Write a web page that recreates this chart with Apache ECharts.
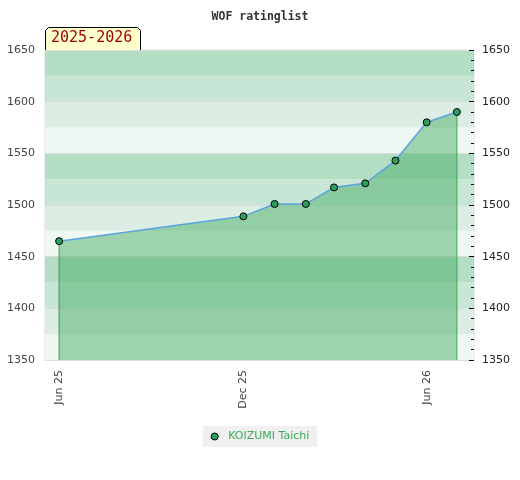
<!DOCTYPE html>
<html>
<head>
<meta charset="utf-8">
<title>WOF ratinglist</title>
<script src="https://cdn.jsdelivr.net/npm/echarts@6/dist/echarts.min.js"></script>
<style>
  html, body { margin: 0; padding: 0; background: #fff; }
  #chart { width: 520px; height: 480px; }
</style>
</head>
<body>
<div id="chart"></div>
<script>
// rating list data (one entry per month)
const dates = [
  '2025-06-01', '2025-12-01', '2026-01-01', '2026-02-01', '2026-03-01',
  '2026-04-01', '2026-05-01', '2026-06-01', '2026-07-01'
]
const ratings = [1465, 1489, 1501, 1501, 1517, 1521, 1543, 1580, 1590]
const tickDates = ['2025-06-01', '2025-12-01', '2026-06-01']
const playerName = 'KOIZUMI Taichi'
const seasonLabel = '2025-2026'

const months = ['Jan', 'Feb', 'Mar', 'Apr', 'May', 'Jun', 'Jul', 'Aug', 'Sep', 'Oct', 'Nov', 'Dec']

function ts(s) {
  const [y, m, d] = s.split('-').map(Number)
  return Date.UTC(y, m - 1, d)
}

function fmtDate(v) {
  const d = new Date(v)
  return months[d.getUTCMonth()] + ' ' + String(d.getUTCFullYear()).slice(2)
}

const points = dates.map((d, i) => [ts(d), ratings[i]])
const yMin = 1350
const yMax = 1650
const first = points[0]
const last = points[points.length - 1]

// vertical edge of the filled area, from the axis bottom up to a point
function edgeSeries(pt, color) {
  return {
    name: 'edge',
    type: 'line',
    data: [[pt[0], yMin], [pt[0], pt[1]]],
    symbol: 'none',
    silent: true,
    z: 2,
    lineStyle: { color, width: 1 }
  }
}

const chart = echarts.init(document.getElementById('chart'), null, { renderer: 'canvas' })

const option = {
  animation: false,
  title: {
    text: 'WOF ratinglist',
    left: 'center',
    top: 6,
    textStyle: {
      fontFamily: 'DejaVu Sans Mono',
      fontWeight: 'bold',
      fontSize: 11.5,
      color: '#333'
    }
  },
  graphic: [
    {
      type: 'group',
      left: 45,
      top: 27,
      children: [
        {
          type: 'polygon',
          shape: { points: [[0.5, 3.5], [3.5, 0.5], [92.5, 0.5], [95.5, 3.5], [95.5, 23.5], [0.5, 23.5]] },
          style: { fill: '#ffffcc', stroke: '#000', lineWidth: 1 }
        },
        {
          type: 'text',
          x: 6,
          y: 4,
          style: {
            text: seasonLabel,
            font: '15px "DejaVu Sans Mono"',
            fill: '#990000'
          }
        }
      ]
    }
  ],
  legend: {
    bottom: 33,
    left: 'center',
    backgroundColor: '#f0f0f0',
    padding: [5, 8, 5, 8],
    itemWidth: 7,
    itemHeight: 7,
    icon: 'circle',
    itemStyle: { borderWidth: 1, borderColor: '#000' },
    textStyle: { color: '#3aaa5a', fontSize: 11, fontFamily: 'DejaVu Sans', padding: [0, 0, 0, 5] },
    data: [playerName]
  },
  grid: {
    left: 45,
    right: 46,
    top: 50,
    bottom: 120,
    show: true,
    borderColor: '#ddd',
    borderWidth: 1
  },
  xAxis: {
    type: 'value',
    min: ts('2025-05-18'),
    max: ts('2026-07-18'),
    axisLine: { show: false },
    axisTick: { show: false },
    splitLine: { show: false },
    axisLabel: {
      customValues: tickDates.map(ts),
      formatter: fmtDate,
      rotate: 90,
      color: '#444',
      fontSize: 11,
      fontFamily: 'DejaVu Sans',
      margin: 10
    }
  },
  yAxis: [
    {
      type: 'value',
      min: yMin,
      max: yMax,
      interval: 25,
      axisLine: { show: false },
      axisTick: { show: false },
      splitLine: { show: false },
      splitArea: {
        show: true,
        areaStyle: { color: ['#f0f8f3', '#dceee3', '#c8e6d5', '#b3dec4'] }
      },
      axisLabel: {
        color: '#444',
        fontSize: 11,
        fontFamily: 'DejaVu Sans',
        margin: 10,
        formatter: v => (v % 50 === 0 ? String(v) : '')
      }
    },
    {
      type: 'value',
      position: 'right',
      min: yMin,
      max: yMax,
      interval: 50,
      axisLine: { show: false },
      axisTick: { show: true, inside: true, length: 5, lineStyle: { color: '#000' } },
      minorTick: { show: true, splitNumber: 5, length: 3, lineStyle: { color: '#000' } },
      splitLine: { show: true, lineStyle: { color: '#dcdcdc', width: 1 } },
      axisLabel: {
        color: '#222',
        fontSize: 11,
        fontFamily: 'DejaVu Sans',
        margin: 8,
        formatter: v => String(v)
      }
    }
  ],
  series: [
    edgeSeries(first, '#3b8552'),
    edgeSeries(last, '#2aa852'),
    {
      name: playerName,
      type: 'line',
      data: points,
      symbol: 'circle',
      symbolSize: 7,
      itemStyle: { color: '#2e9e5b', borderColor: '#000', borderWidth: 1 },
      lineStyle: { color: '#5ba3df', width: 1.5 },
      areaStyle: { color: 'rgb(74,174,103)', opacity: 0.5, origin: 'start' },
      z: 3
    }
  ]
}

chart.setOption(option)
</script>
</body>
</html>
